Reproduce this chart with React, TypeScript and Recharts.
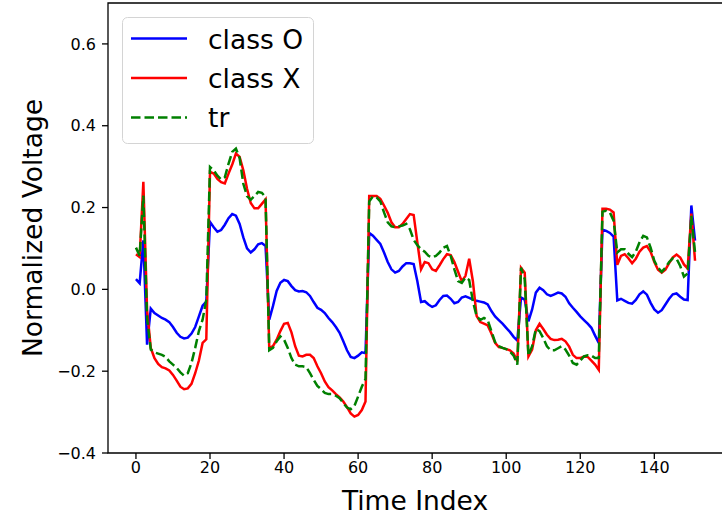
import { LineChart, Line, XAxis, YAxis, ReferenceArea, Label } from 'recharts';

// values, one per time index (0..151)
const classO = [
  0.025, 0.015, 0.12, -0.135, -0.047, -0.058, -0.064, -0.07, -0.074, -0.08,
  -0.092, -0.106, -0.116, -0.12, -0.118, -0.108, -0.092, -0.066, -0.04, -0.03,
  0.165, 0.152, 0.141, 0.145, 0.158, 0.174, 0.184, 0.18, 0.16, 0.127,
  0.1, 0.09, 0.098, 0.11, 0.113, 0.106, -0.074, -0.041, -0.004, 0.016,
  0.023, 0.02, 0.008, -0.002, -0.005, -0.004, -0.007, -0.016, -0.031, -0.045,
  -0.05, -0.058, -0.07, -0.08, -0.092, -0.106, -0.127, -0.149, -0.165, -0.168,
  -0.162, -0.154, -0.156, 0.138, 0.131, 0.121, 0.111, 0.09, 0.067, 0.049,
  0.041, 0.045, 0.056, 0.064, 0.064, 0.062, 0.02, -0.031, -0.029, -0.037,
  -0.043, -0.039, -0.026, -0.016, -0.015, -0.023, -0.034, -0.031, -0.02, -0.017,
  -0.021, -0.025, -0.028, -0.03, -0.032, -0.037, -0.053, -0.066, -0.075, -0.084,
  -0.094, -0.104, -0.116, -0.125, -0.02, -0.025, -0.078, -0.049, -0.008, 0.004,
  -0.002, -0.012, -0.016, -0.012, -0.008, -0.01, -0.018, -0.034, -0.045, -0.055,
  -0.066, -0.075, -0.084, -0.094, -0.113, -0.131, 0.146, 0.143, 0.138, 0.129,
  -0.027, -0.023, -0.028, -0.033, -0.035, -0.026, -0.012, -0.005, -0.013, -0.033,
  -0.049, -0.057, -0.051, -0.037, -0.023, -0.012, -0.01, -0.018, -0.025, -0.026,
  0.205, 0.119,
];

const classX = [
  0.086, 0.079, 0.263, -0.05, -0.143, -0.168, -0.182, -0.19, -0.193, -0.198,
  -0.209, -0.223, -0.238, -0.244, -0.242, -0.231, -0.205, -0.174, -0.131, -0.122,
  0.287, 0.283, 0.27, 0.262, 0.259, 0.283, 0.305, 0.332, 0.324, 0.291,
  0.246, 0.211, 0.198, 0.198, 0.209, 0.22, -0.143, -0.139, -0.123, -0.102,
  -0.084, -0.082, -0.105, -0.139, -0.162, -0.164, -0.16, -0.16, -0.168, -0.188,
  -0.205, -0.225, -0.239, -0.247, -0.256, -0.264, -0.274, -0.288, -0.303, -0.311,
  -0.307, -0.295, -0.274, 0.228, 0.228, 0.228, 0.221, 0.205, 0.187, 0.164,
  0.152, 0.152, 0.16, 0.172, 0.184, 0.182, 0.115, 0.049, 0.067, 0.064,
  0.049, 0.045, 0.059, 0.074, 0.086, 0.084, 0.067, 0.043, 0.02, 0.033,
  0.075, 0.02, -0.065, -0.08, -0.084, -0.088, -0.108, -0.131, -0.141, -0.143,
  -0.146, -0.149, -0.157, -0.176, 0.053, 0.041, -0.164, -0.147, -0.1, -0.084,
  -0.097, -0.111, -0.121, -0.124, -0.123, -0.121, -0.127, -0.14, -0.16, -0.168,
  -0.168, -0.164, -0.165, -0.174, -0.184, -0.197, 0.197, 0.197, 0.195, 0.188,
  0.06, 0.082, 0.086, 0.076, 0.064, 0.075, 0.092, 0.102, 0.106, 0.092,
  0.067, 0.048, 0.041, 0.048, 0.064, 0.078, 0.085, 0.078, 0.061, 0.051,
  0.185, 0.07,
];

const tr = [
  0.102, 0.082, 0.229, -0.07, -0.147, -0.154, -0.157, -0.16, -0.165, -0.176,
  -0.184, -0.192, -0.203, -0.211, -0.205, -0.18, -0.143, -0.102, -0.074, -0.025,
  0.299, 0.291, 0.278, 0.269, 0.274, 0.307, 0.336, 0.344, 0.321, 0.258,
  0.228, 0.219, 0.228, 0.238, 0.236, 0.225, -0.149, -0.143, -0.127, -0.115,
  -0.123, -0.143, -0.168, -0.184, -0.188, -0.188, -0.19, -0.205, -0.221, -0.236,
  -0.244, -0.253, -0.256, -0.256, -0.26, -0.266, -0.278, -0.289, -0.293, -0.285,
  -0.262, -0.238, -0.219, 0.215, 0.227, 0.225, 0.215, 0.188, 0.164, 0.154,
  0.152, 0.154, 0.156, 0.16, 0.147, 0.121, 0.108, 0.098, 0.092, 0.082,
  0.078, 0.082, 0.09, 0.102, 0.106, 0.082, 0.049, 0.02, 0.016, 0.029,
  0.023, -0.029, -0.065, -0.075, -0.07, -0.075, -0.102, -0.129, -0.139, -0.143,
  -0.146, -0.152, -0.162, -0.184, 0.053, 0.025, -0.162, -0.139, -0.097, -0.102,
  -0.119, -0.139, -0.149, -0.149, -0.144, -0.139, -0.147, -0.162, -0.18, -0.184,
  -0.174, -0.164, -0.161, -0.162, -0.168, -0.168, 0.19, 0.192, 0.188, 0.168,
  0.09, 0.098, 0.098, 0.087, 0.079, 0.092, 0.115, 0.131, 0.127, 0.102,
  0.07, 0.053, 0.043, 0.053, 0.067, 0.076, 0.075, 0.057, 0.031, 0.039,
  0.18, 0.09,
];

const xTicks = [0, 20, 40, 60, 80, 100, 120, 140];
const yTicks = [-0.4, -0.2, 0, 0.2, 0.4, 0.6];
const seriesNames = ['class O', 'class X', 'tr'];

const data = classO.map((v, i) => ({ t: i, classO: v, classX: classX[i], tr: tr[i] }));

const FONT = '"DejaVu Sans", sans-serif';
const X_MIN = -7.55;
const X_MAX = 158.55;

const fmtY = (v: number) => (v < 0 ? '\u2212' + Math.abs(v).toFixed(1) : v.toFixed(1));

// legend box drawn over the plot, top-left like matplotlib's "best" spot here
const LegendBox = () => {
  const rows = [
    { color: '#0000ff', dash: undefined },
    { color: '#ff0000', dash: undefined },
    { color: '#008000', dash: '9.5 4' },
  ];
  return (
    <svg width={192} height={127} style={{ position: 'absolute', left: 122, top: 17, display: 'block' }}>
      <rect x={0.5} y={0.5} width={191} height={126} rx={5} fill="rgba(255,255,255,0.8)" stroke="#d4d4d4" />
      {rows.map((r, i) => (
        <g key={i}>
          <line x1={9} x2={65} y1={21.5 + i * 39.5} y2={21.5 + i * 39.5} stroke={r.color} strokeWidth={2.5} strokeDasharray={r.dash} />
          <text x={86} y={32 + i * 39} fontSize={26.5} fontFamily={FONT} fill="#000">
            {seriesNames[i]}
          </text>
        </g>
      ))}
    </svg>
  );
};

export default function App() {
  return (
    <div style={{ position: 'absolute', left: 0, top: 0, width: 722, height: 516, overflow: 'hidden', background: '#fff' }}>
      <LineChart width={731} height={516} data={data} margin={{ top: 3, right: 8, bottom: 0, left: 0 }}>
        <XAxis
          dataKey="t"
          type="number"
          domain={[X_MIN, X_MAX]}
          ticks={xTicks}
          allowDataOverflow
          height={63}
          axisLine={false}
          tickLine={{ stroke: '#000', strokeWidth: 1.3 }}
          tickSize={6}
          tickMargin={3}
          tick={{ fill: '#000', fontSize: 16, fontFamily: FONT }}
        >
          <Label
            content={() => (
              <text x={415} y={510} textAnchor="middle" fontSize={26.5} fontFamily={FONT} fill="#000">
                Time Index
              </text>
            )}
          />
        </XAxis>
        <YAxis
          type="number"
          domain={[-0.4, 0.7]}
          ticks={yTicks}
          allowDataOverflow
          width={108}
          axisLine={false}
          tickLine={{ stroke: '#000', strokeWidth: 1.3 }}
          tickSize={6}
          tickMargin={6}
          tickFormatter={fmtY}
          tick={{ fill: '#000', fontSize: 16, fontFamily: FONT }}
        >
          <Label
            content={() => (
              <text transform="translate(42,228) rotate(-90)" textAnchor="middle" fontSize={26.5} fontFamily={FONT} fill="#000">
                Normalized Voltage
              </text>
            )}
          />
        </YAxis>
        <Line type="linear" dataKey="classO" name={seriesNames[0]} stroke="#0000ff" strokeWidth={2.5} dot={false} isAnimationActive={false} />
        <Line type="linear" dataKey="classX" name={seriesNames[1]} stroke="#ff0000" strokeWidth={2.5} dot={false} isAnimationActive={false} />
        <Line type="linear" dataKey="tr" name={seriesNames[2]} stroke="#008000" strokeWidth={2.5} strokeDasharray="9.5 4" dot={false} isAnimationActive={false} />
        <ReferenceArea x1={X_MIN} x2={X_MAX} y1={-0.4} y2={0.7} fill="none" stroke="#000" strokeWidth={1.3} fillOpacity={0} ifOverflow="visible" />
      </LineChart>
      <LegendBox />
    </div>
  );
}
